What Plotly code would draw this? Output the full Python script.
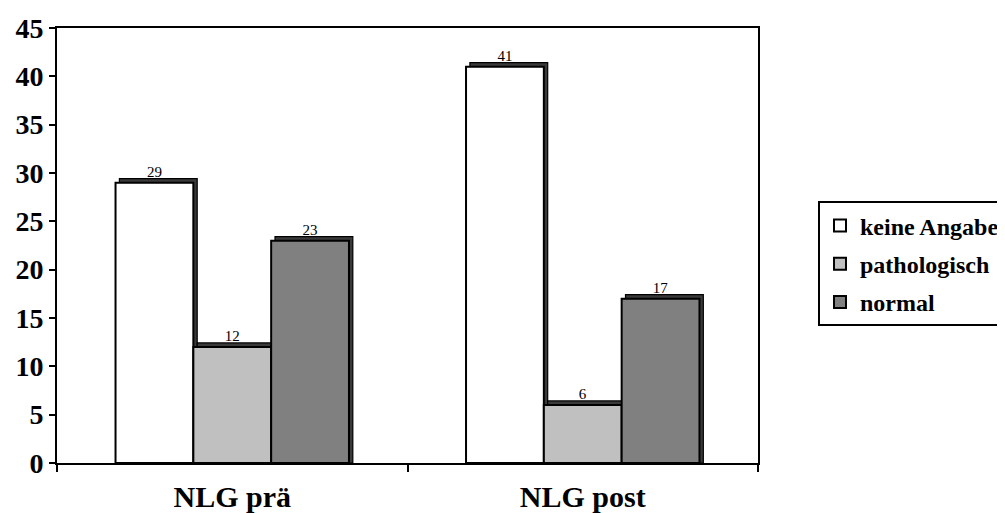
import plotly.graph_objects as go

categories = ["NLG prä", "NLG post"]
series_names = ["keine Angabe", "pathologisch", "normal"]
keine_angabe = [29, 41]
pathologisch = [12, 6]
normal = [23, 17]
series_values = [keine_angabe, pathologisch, normal]
colors = ["#FFFFFF", "#C0C0C0", "#808080"]

bar_w = 0.222
offsets = [-0.333, -0.111, 0.111]
depth_x = 0.011
depth_y = 0.42

font_family = "Liberation Serif"

fig = go.Figure()

# 3D depth (shadow) bars
for name, vals, off in zip(series_names, series_values, offsets):
    fig.add_trace(go.Bar(
        x=categories, y=[v + depth_y for v in vals],
        width=bar_w, offset=off + depth_x,
        marker=dict(color="#3a3a3a", line=dict(color="black", width=1.2)),
        showlegend=False, hoverinfo="skip",
    ))

# main bars
for name, vals, off, c in zip(series_names, series_values, offsets, colors):
    fig.add_trace(go.Bar(
        x=categories, y=vals, name=name, legendgroup=name,
        width=bar_w, offset=off,
        marker=dict(color=c, line=dict(color="black", width=2)),
        text=[str(v) for v in vals], textposition="outside",
        textfont=dict(family=font_family, size=15, color="#000000"),
        cliponaxis=False,
    ))

fig.update_layout(
    width=997, height=505, autosize=False,
    barmode="overlay",
    plot_bgcolor="white", paper_bgcolor="white",
    margin=dict(l=49, r=247, t=20, b=50, autoexpand=False),
    font=dict(family=font_family, color="black"),
    legend=dict(
        x=1.0856, y=0.4575, xanchor="left", yanchor="middle",
        bordercolor="black", borderwidth=2,
        font=dict(family=font_family, size=24, color="black", weight="bold"),
        tracegroupgap=4, itemwidth=30,
    ),
)
fig.update_yaxes(
    range=[0, 45], dtick=5, showgrid=False, zeroline=False, automargin=False,
    showline=True, linecolor="black", linewidth=2, mirror=True,
    ticks="outside", ticklen=6, tickwidth=2, tickcolor="black",
    tickfont=dict(family=font_family, size=28, color="black", weight="bold"),
)
fig.update_xaxes(
    showgrid=False, showline=True, linecolor="black", linewidth=2, mirror=True,
    automargin=False,
    ticks="outside", ticklen=7, tickwidth=2, tickcolor="black",
    tickson="boundaries", ticklabelstandoff=6,
    tickfont=dict(family=font_family, size=30, color="black", weight="bold"),
)

fig.write_html("out.html")
